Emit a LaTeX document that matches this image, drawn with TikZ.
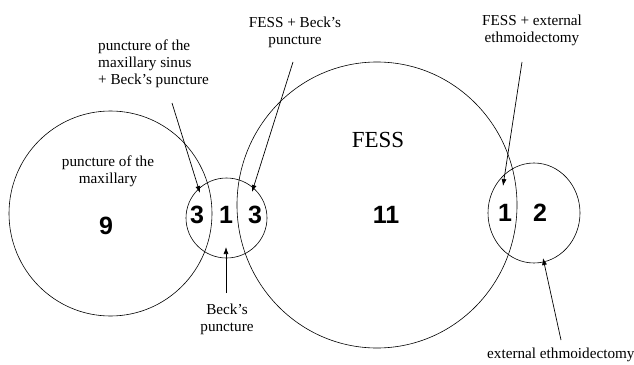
\documentclass[tikz,border=0pt]{standalone}
\usepackage{fontspec}
\setmainfont{Liberation Serif}
\newfontfamily\digitfont{Liberation Sans}
\usetikzlibrary{shapes.geometric,arrows.meta}
\tikzset{
  setshape/.style={draw,ellipse,inner sep=0pt,line width=0.6pt},
  countlabel/.style={font=\digitfont\bfseries\fontsize{25}{25}\selectfont,inner sep=0pt},
  grouplabel/.style={font=\fontsize{15.2}{16.8}\selectfont,align=center,inner sep=0pt},
  pointer/.style={-{Latex[length=7pt,width=5pt]},line width=0.7pt}
}
\begin{document}
\begin{tikzpicture}[x=1pt,y=-1pt]
\useasboundingbox (0,0) rectangle (634,364);
% sets
\node[setshape,minimum width=203pt,minimum height=205pt] (maxset) at (110.5,213.5) {};
\node[setshape,minimum width=81pt,minimum height=80pt] (beckset) at (226.5,218) {};
\node[setshape,minimum width=280pt,minimum height=286pt] (fessset) at (377,205) {};
\node[setshape,minimum width=92pt,minimum height=100pt] (extset) at (534,213) {};
% counts
\node[countlabel] (nmax) at (106,226) {9};
\node[countlabel] (nmaxbeck) at (197,215) {3};
\node[countlabel] (nbeck) at (226,215) {1};
\node[countlabel] (nfessbeck) at (255,215) {3};
\node[countlabel] (nfess) at (386,215) {11};
\node[countlabel] (nfessext) at (505,213) {1};
\node[countlabel] (next) at (540,213) {2};
% labels
\node[grouplabel] (lmax) at (108,171) {puncture of the\\maxillary};
\node[grouplabel,font=\fontsize{23}{25}\selectfont] (lfess) at (378,140) {FESS};
\node[grouplabel,align=left,anchor=west] (lmaxbeck) at (98,64) {puncture of the\\maxillary sinus\\+ Beck’s puncture};
\node[grouplabel] (lfessbeck) at (295,32) {FESS + Beck’s\\puncture};
\node[grouplabel] (lfessext) at (532,30.5) {FESS + external\\ethmoidectomy};
\node[grouplabel] (lbeck) at (227,319.5) {Beck’s\\puncture};
\node[grouplabel,anchor=west] (lext) at (487,355) {external ethmoidectomy};
% pointers
\coordinate (tmaxbeck) at (172,103);
\coordinate (hmaxbeck) at (200,193);
\coordinate (tfessbeck) at (293,62);
\coordinate (hfessbeck) at (252,192);
\coordinate (tfessext) at (522,62);
\coordinate (hfessext) at (503,186);
\coordinate (text) at (561,340);
\coordinate (hext) at (543,258);
\coordinate (tbeck) at (226,293);
\coordinate (hbeck) at (226,247);
\draw[pointer] (tmaxbeck) -- (hmaxbeck);
\draw[pointer] (tfessbeck) -- (hfessbeck);
\draw[pointer] (tfessext) -- (hfessext);
\draw[pointer] (text) -- (hext);
\draw[pointer] (tbeck) -- (hbeck);
\end{tikzpicture}
\end{document}
